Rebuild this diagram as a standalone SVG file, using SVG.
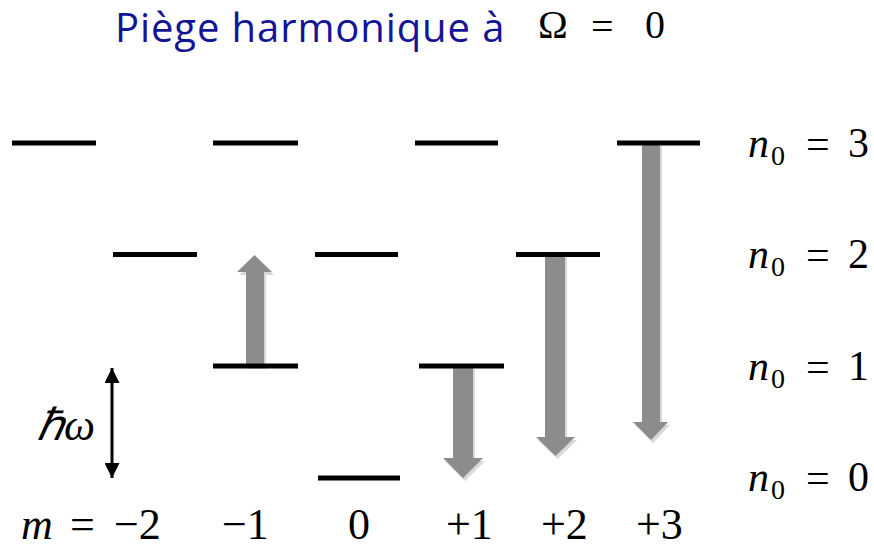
<svg xmlns="http://www.w3.org/2000/svg" width="874" height="549" viewBox="0 0 874 549">
<defs>
<marker id="ah" viewBox="0 0 10 10" refX="10" refY="5" markerWidth="5" markerHeight="5" orient="auto-start-reverse" markerUnits="strokeWidth">
<path d="M0,0 L10,5 L0,10 z" fill="#000"/>
</marker>
</defs>
<rect width="874" height="549" fill="#fff"/>
<g id="title" font-size="40" fill="#000">
<text x="115" y="42" font-family="'Open Sans'" letter-spacing="0.9" fill="#141496">Piège harmonique à</text>
<text x="538" y="38" font-family="'Liberation Serif'">Ω</text>
<text x="591" y="40" font-family="'Liberation Serif'">=</text>
<text x="645" y="38" font-family="'Liberation Serif'">0</text>
</g>
<g id="connectors">
<g fill="#000" opacity="0.15" transform="translate(2,3)">
<polygon points="246,366 246,272 237,272 254.5,255 272,272 264,272 264,366"/>
<polygon points="453,366 453,458 443,458 463,478 483,458 473,458 473,366"/>
<polygon points="545,254 545,437 536,437 555.5,456 575,437 565,437 565,254"/>
<polygon points="642,143 642,422 633,422 651,440 668,422 660,422 660,143"/>
</g>
<g fill="#8c8c8c">
<polygon points="246,366 246,272 237,272 254.5,255 272,272 264,272 264,366"/>
<polygon points="453,366 453,458 443,458 463,478 483,458 473,458 473,366"/>
<polygon points="545,254 545,437 536,437 555.5,456 575,437 565,437 565,254"/>
<polygon points="642,143 642,422 633,422 651,440 668,422 660,422 660,143"/>
</g>
<line x1="112" y1="368" x2="112" y2="478" stroke="#000" stroke-width="3" marker-start="url(#ah)" marker-end="url(#ah)"/>
</g>
<g id="levels" stroke="#000" stroke-width="5" fill="none">
<g id="m-2"><line x1="12" y1="143" x2="96" y2="143"/><line x1="113" y1="254.5" x2="197" y2="254.5"/></g>
<g id="m-1"><line x1="213" y1="143" x2="298" y2="143"/><line x1="213" y1="366" x2="298" y2="366"/></g>
<g id="m0"><line x1="315" y1="254.5" x2="398" y2="254.5"/><line x1="318" y1="478" x2="400" y2="478"/></g>
<g id="m+1"><line x1="415" y1="143" x2="498" y2="143"/><line x1="419" y1="366" x2="504" y2="366"/></g>
<g id="m+2"><line x1="516" y1="254.5" x2="600" y2="254.5"/></g>
<g id="m+3"><line x1="617" y1="143" x2="700" y2="143"/></g>
</g>
<g id="hbar-omega" font-size="44" fill="#000">
<text x="37" y="440" font-family="'Liberation Serif'" font-style="italic">ℏω</text>
</g>
<g id="n-labels" font-size="42" fill="#000">
<text x="748" y="157" font-family="'Liberation Serif'" font-style="italic">n</text>
<text x="806" y="158" font-family="'Liberation Serif'">=</text>
<text x="848" y="157" font-family="'Liberation Serif'">3</text>
<text x="748" y="268" font-family="'Liberation Serif'" font-style="italic">n</text>
<text x="806" y="269" font-family="'Liberation Serif'">=</text>
<text x="848" y="268" font-family="'Liberation Serif'">2</text>
<text x="748" y="380" font-family="'Liberation Serif'" font-style="italic">n</text>
<text x="806" y="381" font-family="'Liberation Serif'">=</text>
<text x="848" y="380" font-family="'Liberation Serif'">1</text>
<text x="748" y="491" font-family="'Liberation Serif'" font-style="italic">n</text>
<text x="806" y="492" font-family="'Liberation Serif'">=</text>
<text x="848" y="491" font-family="'Liberation Serif'">0</text>
</g>
<g id="n-subscripts" font-size="28" fill="#000">
<text x="771" y="165" font-family="'Liberation Serif'">0</text>
<text x="771" y="276" font-family="'Liberation Serif'">0</text>
<text x="771" y="388" font-family="'Liberation Serif'">0</text>
<text x="771" y="499" font-family="'Liberation Serif'">0</text>
</g>
<g id="m-labels" font-size="44" fill="#000">
<text x="21" y="539" font-family="'Liberation Serif'" font-style="italic">m</text>
<text x="70" y="539" font-family="'Liberation Serif'">=</text>
<text x="114" y="539" font-family="'Liberation Serif'">−2</text>
<text x="222" y="539" font-family="'Liberation Serif'">−1</text>
<text x="348" y="539" font-family="'Liberation Serif'">0</text>
<text x="446" y="539" font-family="'Liberation Serif'">+1</text>
<text x="541" y="539" font-family="'Liberation Serif'">+2</text>
<text x="636" y="539" font-family="'Liberation Serif'">+3</text>
</g>
</svg>
